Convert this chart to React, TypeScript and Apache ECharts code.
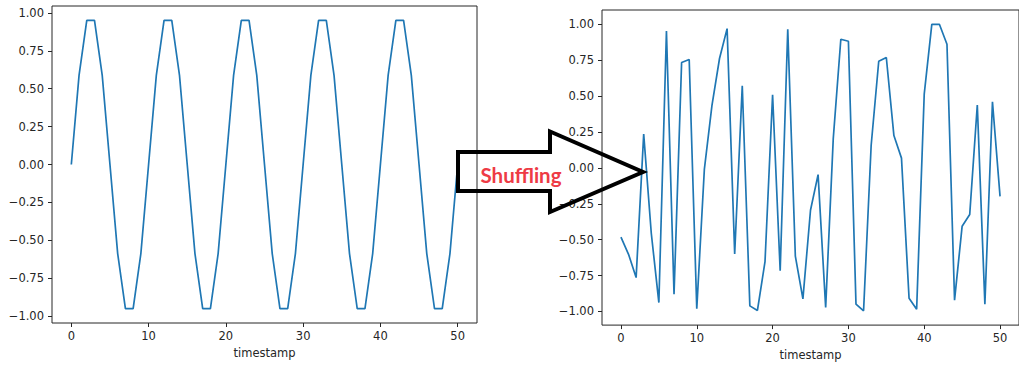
import React, { useEffect, useRef } from "react";
import * as echarts from "echarts";

// Original signal: a 10-step sine wave sampled at timestamps 0..50
const originalValues: number[] = [
  0, 0.588, 0.951, 0.951, 0.588, 0, -0.588, -0.951, -0.951, -0.588,
  0, 0.588, 0.951, 0.951, 0.588, 0, -0.588, -0.951, -0.951, -0.588,
  0, 0.588, 0.951, 0.951, 0.588, 0, -0.588, -0.951, -0.951, -0.588,
  0, 0.588, 0.951, 0.951, 0.588, 0, -0.588, -0.951, -0.951, -0.588,
  0, 0.588, 0.951, 0.951, 0.588, 0, -0.588, -0.951, -0.951, -0.588,
  0,
];

// Same timestamps after shuffling
const shuffledValues: number[] = [
  -0.482, -0.602, -0.764, 0.235, -0.455, -0.938, 0.954, -0.88, 0.734, 0.755,
  -0.981, -0.01, 0.434, 0.762, 0.97, -0.6, 0.572, -0.961, -0.993, -0.653,
  0.51, -0.716, 0.965, -0.614, -0.912, -0.295, -0.047, -0.972, 0.202, 0.896,
  0.882, -0.949, -0.995, 0.156, 0.743, 0.769, 0.225, 0.068, -0.908, -0.984,
  0.514, 1.0, 1.0, 0.861, -0.921, -0.406, -0.325, 0.438, -0.949, 0.461,
  -0.198,
];

const xTicks: number[] = [0, 10, 20, 30, 40, 50];
const yTicks: number[] = [-1, -0.75, -0.5, -0.25, 0, 0.25, 0.5, 0.75, 1];

const xLabel = "timestamp";
const arrowText = "Shuffling";

const INK = "#262626";
const LINE = "#1f77b4";
const FONT = "DejaVu Sans";
const FONT_SIZE = 11.5;

const fmtY = (v: number) => (v < 0 ? "\u2212" : "") + Math.abs(v).toFixed(2);

// matplotlib-style 5% padding around the data range
const padded = (vals: number[]) => {
  const lo = Math.min(...vals);
  const hi = Math.max(...vals);
  const m = (hi - lo) * 0.05;
  return { min: lo - m, max: hi + m };
};

function makeXAxis(gridIndex: number) {
  return {
    type: "value" as const,
    gridIndex,
    position: "bottom" as const,
    min: -2.5,
    max: 52.5,
    name: xLabel,
    nameLocation: "middle" as const,
    nameGap: 22,
    nameTextStyle: { fontFamily: FONT, fontSize: FONT_SIZE, color: INK },
    axisLine: { show: false, onZero: false },
    axisTick: {
      show: true,
      length: 4,
      customValues: xTicks,
      lineStyle: { color: INK, width: 1 },
    },
    axisLabel: {
      show: true,
      margin: 7,
      customValues: xTicks,
      fontFamily: FONT,
      fontSize: FONT_SIZE,
      color: INK,
    },
    splitLine: { show: false },
  };
}

function makeYAxis(gridIndex: number, vals: number[]) {
  const r = padded(vals);
  return {
    type: "value" as const,
    gridIndex,
    position: "left" as const,
    min: r.min,
    max: r.max,
    axisLine: { show: false, onZero: false },
    axisTick: {
      show: true,
      length: 4,
      customValues: yTicks,
      lineStyle: { color: INK, width: 1 },
    },
    axisLabel: {
      show: true,
      margin: 8,
      customValues: yTicks,
      formatter: fmtY,
      fontFamily: FONT,
      fontSize: FONT_SIZE,
      color: INK,
    },
    splitLine: { show: false },
  };
}

function makeSeries(index: number, vals: number[]) {
  return {
    type: "line" as const,
    xAxisIndex: index,
    yAxisIndex: index,
    data: vals.map((v, i) => [i, v]),
    showSymbol: false,
    lineStyle: { color: LINE, width: 1.7 },
    itemStyle: { color: LINE },
  };
}

export default function App() {
  const ref = useRef<HTMLDivElement>(null);

  useEffect(() => {
    if (!ref.current) return;
    const chart = echarts.init(ref.current, undefined, { renderer: "svg" });
    chart.setOption({
      animation: false,
      backgroundColor: "#ffffff",
      grid: [
        { left: 52, top: 6, width: 425, height: 317, show: true, borderColor: INK, borderWidth: 1, backgroundColor: "transparent" },
        { left: 602, top: 10, width: 425, height: 318, show: true, borderColor: INK, borderWidth: 1, backgroundColor: "transparent" },
      ],
      xAxis: [makeXAxis(0), makeXAxis(1)],
      yAxis: [makeYAxis(0, originalValues), makeYAxis(1, shuffledValues)],
      series: [makeSeries(0, originalValues), makeSeries(1, shuffledValues)],
      graphic: [
        {
          type: "polygon",
          z: 100,
          shape: {
            points: [
              [458, 152],
              [550, 152],
              [550, 131.5],
              [643, 172],
              [550, 212],
              [550, 191],
              [458, 191],
            ],
          },
          style: { fill: "none", stroke: "#000000", lineWidth: 4, lineJoin: "miter" },
        },
        {
          type: "text",
          z: 101,
          x: 521,
          y: 175,
          style: {
            text: arrowText,
            fill: "#ee3b45",
            font: "bold 20.5px Lato",
            textAlign: "center",
            textVerticalAlign: "middle",
          },
        },
      ],
    });
    return () => chart.dispose();
  }, []);

  return (
    <div
      ref={ref}
      style={{ position: "absolute", left: 0, top: 0, width: 1019, height: 366 }}
    />
  );
}
